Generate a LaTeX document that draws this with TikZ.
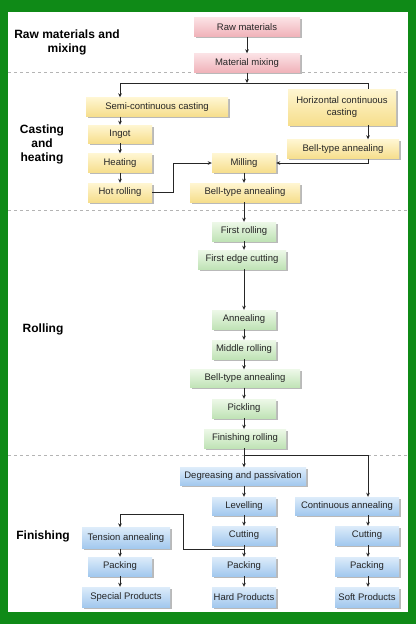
\documentclass[tikz,border=0pt]{standalone}
\usepackage{fontspec}
\setmainfont{Liberation Sans}
\usetikzlibrary{arrows.meta, positioning, calc, shadows}
\definecolor{frameGreen}{HTML}{0F8A17}
\definecolor{sepGray}{HTML}{B4B4B4}
\definecolor{pinkTop}{HTML}{FBE2E5}
\definecolor{pinkBot}{HTML}{F0B2B9}
\definecolor{yellowTop}{HTML}{FFF6D2}
\definecolor{yellowBot}{HTML}{F6DE8C}
\definecolor{greenTop}{HTML}{EDF8E8}
\definecolor{greenBot}{HTML}{C0E3B6}
\definecolor{blueTop}{HTML}{DDECFA}
\definecolor{blueBot}{HTML}{A2C8EE}
\tikzset{
    stepbox/.style={minimum height=19pt, inner sep=1pt, align=center,
        font=\fontsize{9.5}{12}\selectfont, text=black!85,
        drop shadow={shadow xshift=1.6pt, shadow yshift=-1.6pt, fill=black!50, opacity=0.55}},
    pinkbox/.style={stepbox, top color=pinkTop, bottom color=pinkBot},
    yellowbox/.style={stepbox, top color=yellowTop, bottom color=yellowBot},
    greenbox/.style={stepbox, top color=greenTop, bottom color=greenBot},
    bluebox/.style={stepbox, top color=blueTop, bottom color=blueBot},
    flow/.style={-{Stealth[length=4pt, width=3.6pt]}, black!85, line width=0.8pt},
    link/.style={black!85, line width=0.8pt},
    stage/.style={font=\bfseries\fontsize{12}{14}\selectfont, align=center},
    sep/.style={sepGray, dashed, line width=0.6pt}
}

\begin{document}
\begin{tikzpicture}[x=1pt, y=-1pt]
        \useasboundingbox (0,0) rectangle (416,624);
        % Frame
        \fill[frameGreen] (0,0) rectangle (416,624);
        \fill[white] (8,12) rectangle (408,612);

        % Section separators
        \draw[sep] (8,72) -- (408,72);
        \draw[sep] (8,210) -- (408,210);
        \draw[sep] (8,455) -- (408,455);

        % Stage labels
        \node[stage] (lblRaw) at (67,42) {Raw materials and\\mixing};
        \node[stage] (lblCast) at (42,144) {Casting\\and\\heating};
        \node[stage] (lblRoll) at (43,329) {Rolling};
        \node[stage] (lblFin) at (43,536) {Finishing};

        % Raw materials and mixing
        \node[pinkbox, minimum width=106pt] (raw) at (247,27) {Raw materials};
        \node[pinkbox, minimum width=106pt] (mix) at (247,63) {Material mixing};

        % Casting and heating
        \node[yellowbox, minimum width=142pt] (semi) at (157,107) {Semi-continuous casting};
        \node[yellowbox, minimum width=108pt, minimum height=36pt] (horiz) at (342,107) {Horizontal continuous\\casting};
        \node[yellowbox, minimum width=64pt, minimum height=18pt] (ingot) at (120,134) {Ingot};
        \node[yellowbox, minimum width=64pt] (heat) at (120,163) {Heating};
        \node[yellowbox, minimum width=64pt] (hotroll) at (120,192.5) {Hot rolling};
        \node[yellowbox, minimum width=64pt] (mill) at (244,163) {Milling};
        \node[yellowbox, minimum width=110pt] (bellA) at (245,192.5) {Bell-type annealing};
        \node[yellowbox, minimum width=112pt] (bellB) at (343,149) {Bell-type annealing};

        % Rolling
        \node[greenbox, minimum width=64pt] (first) at (244,231.5) {First rolling};
        \node[greenbox, minimum width=88pt] (edge) at (242,259.5) {First edge cutting};
        \node[greenbox, minimum width=64pt] (anneal) at (244,319.5) {Annealing};
        \node[greenbox, minimum width=64pt] (middle) at (244,349.5) {Middle rolling};
        \node[greenbox, minimum width=110pt, minimum height=18pt] (bellC) at (245,378.5) {Bell-type annealing};
        \node[greenbox, minimum width=64pt] (pick) at (244,408.5) {Pickling};
        \node[greenbox, minimum width=82pt] (finish) at (245,438.5) {Finishing rolling};

        % Finishing
        \node[bluebox, minimum width=126pt, minimum height=18pt] (degr) at (243,476.5) {Degreasing and passivation};
        \node[bluebox, minimum width=64pt, minimum height=18pt] (level) at (244,506) {Levelling};
        \node[bluebox, minimum width=104pt, minimum height=18pt] (cont) at (347,506) {Continuous annealing};
        \node[bluebox, minimum width=64pt] (cutM) at (244,535.5) {Cutting};
        \node[bluebox, minimum width=64pt] (cutR) at (367,535.5) {Cutting};
        \node[bluebox, minimum width=88pt, minimum height=21pt] (tens) at (126,538) {Tension annealing};
        \node[bluebox, minimum width=64pt] (packL) at (120,566.5) {Packing};
        \node[bluebox, minimum width=64pt] (packM) at (244,566.5) {Packing};
        \node[bluebox, minimum width=64pt] (packR) at (367,566.5) {Packing};
        \node[bluebox, minimum width=88pt, minimum height=20pt] (spec) at (126,597) {Special Products};
        \node[bluebox, minimum width=64pt, minimum height=20pt] (hard) at (244,597) {Hard Products};
        \node[bluebox, minimum width=64pt, minimum height=20pt] (soft) at (367,597) {Soft Products};

        % Junctions
        \coordinate (colR) at (368,0);
        \coordinate (jA) at (247,83);
        \coordinate (jB) at (244,455);
        \coordinate (jC) at (244,549);
        \coordinate (jD) at (183,514);

        % Connectors: raw materials and mixing
        \draw[flow] (raw) -- (mix);
        \draw[flow] (mix) -- (jA);
        \draw[flow] (jA) -| (ingot |- semi.north);
        \draw[link] (jA) -| (colR |- horiz.north);

        % Connectors: casting and heating
        \draw[flow] (ingot |- semi.south) -- (ingot);
        \draw[flow] (ingot) -- (heat);
        \draw[flow] (heat) -- (hotroll);
        \draw[flow] (hotroll.east) -- ++(21,0) |- (mill.west);
        \draw[flow] (colR |- horiz.south) -- (colR |- bellB.north);
        \draw[flow] (colR |- bellB.south) |- (mill.east);
        \draw[flow] (mill) -- (mill |- bellA.north);
        \draw[flow] (mill |- bellA.south) -- (first);

        % Connectors: rolling
        \draw[flow] (first) -- (first |- edge.north);
        \draw[flow] (first |- edge.south) -- (anneal);
        \draw[flow] (anneal) -- (middle);
        \draw[flow] (middle) -- (middle |- bellC.north);
        \draw[flow] (middle |- bellC.south) -- (pick);
        \draw[flow] (pick) -- (pick |- finish.north);

        % Connectors: finishing
        \draw[link] (pick |- finish.south) -- (jB);
        \draw[flow] (jB) -- (jB |- degr.north);
        \draw[flow] (jB) -| (colR |- cont.north);
        \draw[flow] (jB |- degr.south) -- (level);
        \draw[flow] (level) -- (cutM);
        \draw[flow] (cutM) -- (packM);
        \draw[flow] (jC) -| (jD) -| (packL |- tens.north);
        \draw[flow] (colR |- cont.south) -- (colR |- cutR.north);
        \draw[flow] (packL |- tens.south) -- (packL);
        \draw[flow] (packL) -- (packL |- spec.north);
        \draw[flow] (packM) -- (hard);
        \draw[flow] (colR |- cutR.south) -- (colR |- packR.north);
        \draw[flow] (colR |- packR.south) -- (colR |- soft.north);
    \end{tikzpicture}
\end{document}
